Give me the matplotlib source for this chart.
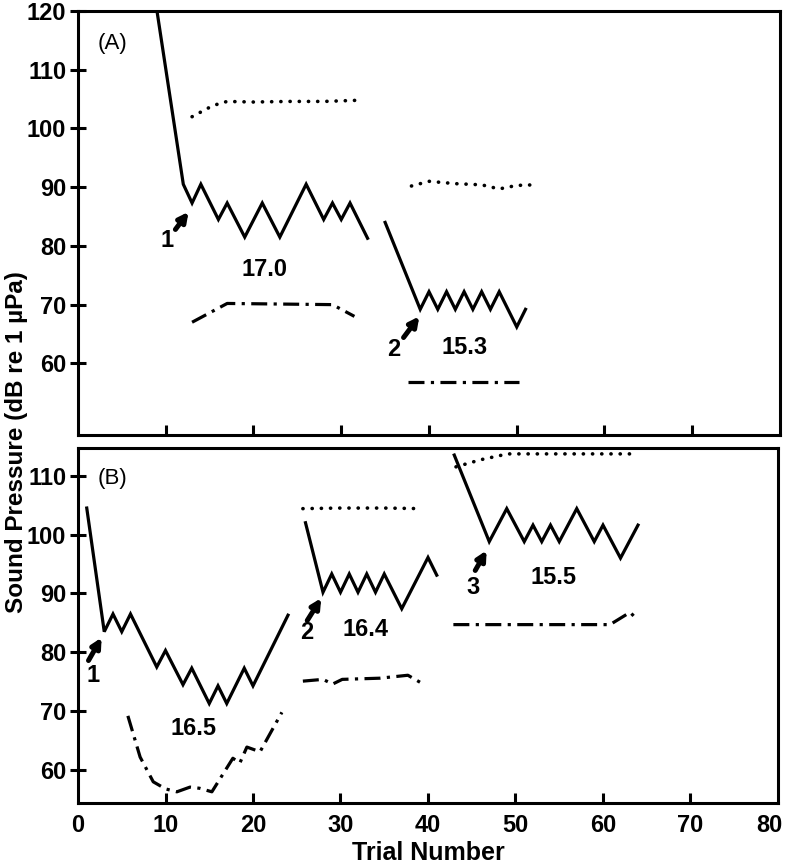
import matplotlib
matplotlib.use("Agg")
import matplotlib.pyplot as plt
import matplotlib.transforms as mtransforms

plt.rcParams["font.family"] = ["Liberation Sans", "DejaVu Sans"]

# ---- panel A: staircase runs (trial number, level in dB) ----
a1_trial = [9, 12, 13, 14, 16, 17, 19, 21, 23, 26, 28, 29, 30, 31, 33]
a1_level = [120, 90.5, 87.3, 90.5, 84.5, 87.3, 81.5, 87.3, 81.5, 90.5, 84.5, 87.3, 84.5, 87.3, 81.3]
a2_trial = [35, 39, 40, 41, 42, 43, 44, 45, 46, 47, 48, 50, 51]
a2_level = [84, 69.2, 72.2, 69.2, 72.2, 69.2, 72.2, 69.2, 72.2, 69.2, 72.2, 66.2, 69.2]

# upper (dotted) and lower (dash-dot) bounds, panel A
a1_upper_x = [13, 14, 15, 16, 17, 20, 24, 28, 32]
a1_upper_y = [102, 102.8, 103.6, 104.2, 104.6, 104.5, 104.6, 104.6, 104.8]
a1_lower_x = [13, 17, 29, 31.5]
a1_lower_y = [67, 70.2, 70, 68]
a2_upper_x = [38, 40, 43, 46, 48, 50, 52]
a2_upper_y = [90.2, 91.0, 90.6, 90.4, 89.7, 90.3, 90.4]
a2_lower_x = [37.6, 50.3]
a2_lower_y = [56.8, 56.8]

# ---- panel B ----
b1_trial = [1, 3, 4, 5, 6, 9, 10, 12, 13, 15, 16, 17, 19, 20, 24]
b1_level = [104.5, 83.5, 86.5, 83.5, 86.5, 77.5, 80.3, 74.5, 77.3, 71.3, 74.3, 71.3, 77.3, 74.3, 86.3]
b2_trial = [26, 28, 29, 30, 31, 32, 33, 34, 35, 37, 40, 41]
b2_level = [102, 90.2, 93.3, 90.2, 93.3, 90.2, 93.3, 90.2, 93.3, 87.4, 96.1, 93.1]
b3_trial = [43, 47, 49, 51, 52, 53, 54, 55, 57, 59, 60, 62, 64]
b3_level = [113.5, 98.8, 104.4, 98.8, 101.6, 98.8, 101.6, 98.8, 104.4, 98.8, 101.6, 96.0, 101.6]

b1_lower_x = [5.7, 7.1, 8.6, 10, 11.3, 12.8, 13.9, 15.3, 17.7, 18.5, 19.3, 20.8, 23.3]
b1_lower_y = [69.2, 62.2, 58.0, 56.8, 56.3, 57.1, 56.9, 56.3, 62.0, 61.2, 63.9, 63.1, 69.8]
b2_upper_x = [25.7, 30, 35, 39.3]
b2_upper_y = [104.4, 104.5, 104.5, 104.4]
b2_lower_x = [25.7, 28, 29.1, 30.2, 34.5, 37.7, 39.1]
b2_lower_y = [75.1, 75.4, 74.6, 75.4, 75.6, 76.1, 74.9]
b3_upper_x = [43.2, 46, 49.1, 55, 63.7]
b3_upper_y = [111.5, 112.7, 113.7, 113.7, 113.7]
b3_lower_x = [42.9, 60.8, 63.1, 64]
b3_lower_y = [84.7, 84.7, 86.8, 85.4]

# run annotations: (label, arrow tail, arrow head, label pos)
a_arrows = [("1", (11.1, 82.8), (12.6, 85.8), (10.1, 81.0)),
            ("2", (37.1, 64.4), (38.9, 68.0), (36.0, 62.4))]
a_slopes = [("17.0", (21.2, 75.9)), ("15.3", (44.0, 62.7))]
b_arrows = [("1", (1.2, 78.6), (2.7, 82.5), (1.7, 76.1)),
            ("2", (26.2, 85.4), (27.8, 89.2), (26.2, 83.4)),
            ("3", (45.4, 93.9), (46.7, 97.3), (45.1, 91.0))]
b_slopes = [("16.5", (13.2, 67.0)), ("16.4", (32.9, 83.9)), ("15.5", (54.3, 92.7))]

dotted = (0, (0.05, 2.5))
dashdot = (0, (5, 2, 1, 2))
lw = 2.3

fig = plt.figure(figsize=(7.89, 8.65), dpi=100)
axA = fig.add_axes([78 / 789, 1 - 435 / 865, 702 / 789, 424 / 865])
axB = fig.add_axes([78 / 789, 1 - 803 / 865, 700 / 789, 355 / 865])


def style(ax, ylim, yticks, show_x):
    ax.set_xlim(0, 80)
    ax.set_ylim(*ylim)
    ax.set_yticks(yticks)
    ax.set_xticks(range(0, 81, 10))
    for s in ax.spines.values():
        s.set_linewidth(2.2)
    ax.tick_params(axis="y", direction="inout", length=11, width=2.2, labelsize=17, pad=3)
    ax.tick_params(axis="x", direction="in", length=7, width=2.2, labelsize=17, pad=8,
                   labelbottom=show_x)
    for t in ax.get_yticklabels() + ax.get_xticklabels():
        t.set_fontweight("bold")
    # hide ticks at the ends of the x axis
    for t in ax.xaxis.get_major_ticks():
        if t.get_loc() in (0, 80):
            t.tick1line.set_visible(False)
        t.tick2line.set_visible(False)


def runs(ax, series, arrows, slopes):
    for x, y, ls in series:
        cap = "round" if ls is dotted else "butt"
        w = 2.6 if ls is dotted else lw
        ax.plot(x, y, color="k", lw=w, linestyle=ls, solid_joinstyle="miter",
                dash_capstyle=cap)
    for lab, tail, head, pos in arrows:
        ax.annotate("", xy=head, xytext=tail,
                    arrowprops=dict(arrowstyle="-|>,head_length=0.55,head_width=0.28",
                                    lw=3.6, color="k", shrinkA=0, shrinkB=0))
        ax.text(pos[0], pos[1], lab, fontsize=17, fontweight="bold", ha="center", va="center")
    for lab, pos in slopes:
        ax.text(pos[0], pos[1], lab, fontsize=17, fontweight="bold", ha="center", va="center")


style(axA, (47.8, 120), [60, 70, 80, 90, 100, 110, 120], False)
style(axB, (54.4, 114.7), [60, 70, 80, 90, 100, 110], True)

# keep the last x label ("80") inside the figure, as in the original
last = axB.get_xticklabels()[-1]
last.set_horizontalalignment("right")
last.set_transform(last.get_transform() +
                   mtransforms.ScaledTranslation(5 / 100, 0, fig.dpi_scale_trans))

runs(axA, [(a1_trial, a1_level, "-"), (a2_trial, a2_level, "-"),
           (a1_upper_x, a1_upper_y, dotted), (a1_lower_x, a1_lower_y, dashdot),
           (a2_upper_x, a2_upper_y, dotted), (a2_lower_x, a2_lower_y, dashdot)],
     a_arrows, a_slopes)
runs(axB, [(b1_trial, b1_level, "-"), (b2_trial, b2_level, "-"), (b3_trial, b3_level, "-"),
           (b1_lower_x, b1_lower_y, dashdot),
           (b2_upper_x, b2_upper_y, dotted), (b2_lower_x, b2_lower_y, dashdot),
           (b3_upper_x, b3_upper_y, dotted), (b3_lower_x, b3_lower_y, dashdot)],
     b_arrows, b_slopes)

axA.text(3.9, 114.5, "(A)", fontsize=16, ha="center", va="center")
axB.text(3.9, 109.5, "(B)", fontsize=16, ha="center", va="center")

fig.text(17 / 789, 1 - 442 / 865, "Sound Pressure (dB re 1 \u00b5Pa)", rotation=90,
         fontsize=17.5, fontweight="bold", ha="center", va="center")
fig.text(428 / 789, 1 - 853 / 865, "Trial Number", fontsize=18, fontweight="bold",
         ha="center", va="center")

fig.savefig("out.png", dpi=100)
